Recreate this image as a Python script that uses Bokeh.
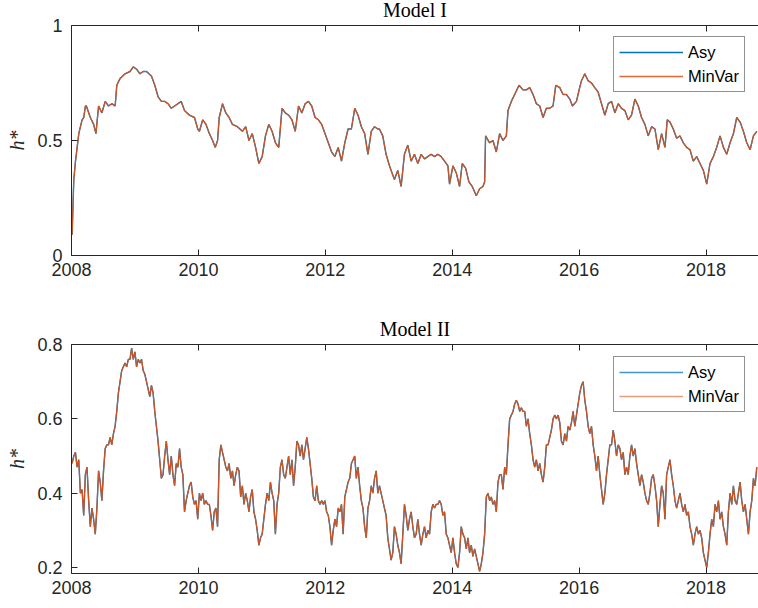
import numpy as np
from bokeh.plotting import figure
from bokeh.models import Range1d, LinearAxis, FixedTicker, Legend, LegendItem
from bokeh.layouts import column
from bokeh.embed import file_html
from bokeh.resources import INLINE

# ---------------- data ----------------
top_years = [
    2008.010, 2008.036, 2008.063, 2008.089, 2008.115, 2008.141, 2008.167, 2008.193, 2008.219, 2008.234,
    2008.297, 2008.349, 2008.385, 2008.427, 2008.479, 2008.531, 2008.583, 2008.635, 2008.688, 2008.714,
    2008.766, 2008.844, 2008.922, 2008.974, 2009.026, 2009.078, 2009.130, 2009.182, 2009.260, 2009.313,
    2009.365, 2009.417, 2009.469, 2009.521, 2009.573, 2009.625, 2009.677, 2009.729, 2009.781, 2009.859,
    2009.938, 2009.990, 2010.016, 2010.068, 2010.120, 2010.172, 2010.224, 2010.266, 2010.302, 2010.328,
    2010.380, 2010.432, 2010.484, 2010.536, 2010.615, 2010.693, 2010.745, 2010.797, 2010.849, 2010.901,
    2010.953, 2011.005, 2011.057, 2011.109, 2011.161, 2011.214, 2011.266, 2011.318, 2011.370, 2011.422,
    2011.474, 2011.526, 2011.578, 2011.630, 2011.682, 2011.734, 2011.786, 2011.839, 2011.891, 2011.943,
    2011.995, 2012.047, 2012.099, 2012.151, 2012.203, 2012.255, 2012.307, 2012.359, 2012.411, 2012.464,
    2012.516, 2012.568, 2012.620, 2012.672, 2012.724, 2012.776, 2012.828,
    2012.853, 2012.905, 2012.958, 2013.011, 2013.089, 2013.142, 2013.195, 2013.247, 2013.300, 2013.353,
    2013.405, 2013.458, 2013.511, 2013.563, 2013.616, 2013.668, 2013.721, 2013.774, 2013.826, 2013.879,
    2013.932, 2013.958, 2014.011, 2014.063, 2014.116, 2014.158, 2014.211, 2014.263, 2014.316, 2014.379,
    2014.432, 2014.484, 2014.511, 2014.526, 2014.589, 2014.642, 2014.695, 2014.747, 2014.800, 2014.853,
    2014.879, 2014.932, 2014.984, 2015.053, 2015.116, 2015.168, 2015.221, 2015.274, 2015.326, 2015.379,
    2015.432, 2015.484, 2015.537, 2015.589, 2015.632, 2015.695, 2015.747, 2015.800, 2015.853, 2015.895,
    2015.958, 2016.000, 2016.037, 2016.089, 2016.142, 2016.195, 2016.247, 2016.300, 2016.353, 2016.405,
    2016.458, 2016.511, 2016.563, 2016.616, 2016.668, 2016.721, 2016.774, 2016.826, 2016.879, 2016.932,
    2016.984, 2017.037, 2017.089, 2017.142, 2017.195, 2017.247, 2017.300, 2017.353, 2017.389, 2017.432,
    2017.484, 2017.537, 2017.589, 2017.642, 2017.695, 2017.747, 2017.800, 2017.853, 2017.905, 2017.958,
    2018.011, 2018.063, 2018.116, 2018.168, 2018.221, 2018.274, 2018.326, 2018.379, 2018.432, 2018.484,
    2018.537, 2018.589, 2018.642, 2018.695, 2018.747, 2018.800,
]
top_asy = [
    0.09, 0.33, 0.41, 0.47, 0.53, 0.56, 0.59, 0.60, 0.65, 0.65,
    0.60, 0.57, 0.53, 0.65, 0.62, 0.67, 0.65, 0.66, 0.65, 0.74,
    0.77, 0.79, 0.80, 0.82, 0.81, 0.79, 0.80, 0.80, 0.78, 0.74,
    0.69, 0.67, 0.67, 0.66, 0.64, 0.65, 0.66, 0.67, 0.63, 0.61,
    0.60, 0.55, 0.54, 0.59, 0.57, 0.53, 0.50, 0.47, 0.50, 0.60,
    0.66, 0.62, 0.60, 0.57, 0.56, 0.54, 0.56, 0.50, 0.53, 0.47,
    0.40, 0.43, 0.52, 0.57, 0.54, 0.49, 0.47, 0.64, 0.62, 0.61,
    0.59, 0.54, 0.65, 0.62, 0.66, 0.67, 0.65, 0.60, 0.59, 0.57,
    0.53, 0.49, 0.45, 0.43, 0.47, 0.41, 0.49, 0.55, 0.55, 0.64,
    0.61, 0.56, 0.53, 0.44, 0.54, 0.56, 0.55,
    0.55, 0.52, 0.44, 0.39, 0.33, 0.37, 0.30, 0.44, 0.48, 0.41,
    0.44, 0.40, 0.44, 0.42, 0.43, 0.44, 0.43, 0.44, 0.43, 0.41,
    0.39, 0.31, 0.39, 0.36, 0.30, 0.40, 0.38, 0.32, 0.30, 0.26,
    0.29, 0.30, 0.32, 0.52, 0.49, 0.50, 0.45, 0.53, 0.50, 0.52,
    0.63, 0.67, 0.70, 0.74, 0.72, 0.72, 0.73, 0.70, 0.66, 0.65,
    0.60, 0.64, 0.64, 0.65, 0.74, 0.73, 0.70, 0.70, 0.68, 0.65,
    0.67, 0.72, 0.76, 0.79, 0.76, 0.75, 0.73, 0.71, 0.66, 0.61,
    0.66, 0.67, 0.62, 0.66, 0.64, 0.63, 0.59, 0.61, 0.68, 0.65,
    0.60, 0.57, 0.52, 0.56, 0.55, 0.46, 0.53, 0.47, 0.59, 0.58,
    0.55, 0.51, 0.52, 0.49, 0.47, 0.46, 0.41, 0.43, 0.40, 0.37,
    0.31, 0.40, 0.43, 0.47, 0.52, 0.47, 0.44, 0.49, 0.53, 0.60,
    0.58, 0.54, 0.49, 0.46, 0.52, 0.54,
]
top_minvar = list(top_asy)

# sample dates of the Model II series (two stretches of equally spaced days)
bot_years = list(np.concatenate([np.linspace(2008.010, 2012.828, 186),
                                 np.linspace(2012.853, 2018.800, 227)]))
bot_asy = [
    0.48, 0.50, 0.51, 0.47, 0.49, 0.40, 0.41, 0.34, 0.45, 0.47,
    0.38, 0.31, 0.36, 0.33, 0.29, 0.36, 0.46, 0.43, 0.38, 0.46,
    0.52, 0.53, 0.53, 0.55, 0.53, 0.56, 0.58, 0.62, 0.67, 0.70,
    0.73, 0.74, 0.75, 0.74, 0.76, 0.76, 0.79, 0.76, 0.78, 0.74,
    0.76, 0.75, 0.76, 0.73, 0.72, 0.70, 0.68, 0.66, 0.69, 0.67,
    0.62, 0.58, 0.54, 0.49, 0.44, 0.45, 0.50, 0.54, 0.49, 0.45,
    0.50, 0.45, 0.42, 0.48, 0.47, 0.52, 0.47, 0.45, 0.35, 0.38,
    0.40, 0.42, 0.43, 0.39, 0.37, 0.38, 0.33, 0.40, 0.38, 0.40,
    0.37, 0.38, 0.37, 0.37, 0.34, 0.30, 0.35, 0.36, 0.31, 0.49,
    0.53, 0.51, 0.49, 0.47, 0.46, 0.48, 0.44, 0.46, 0.42, 0.45,
    0.47, 0.46, 0.39, 0.42, 0.37, 0.40, 0.38, 0.35, 0.39, 0.41,
    0.35, 0.33, 0.30, 0.26, 0.28, 0.29, 0.33, 0.37, 0.40, 0.38,
    0.43, 0.40, 0.38, 0.29, 0.37, 0.40, 0.47, 0.49, 0.45, 0.44,
    0.47, 0.50, 0.45, 0.49, 0.42, 0.47, 0.54, 0.53, 0.50, 0.53,
    0.49, 0.52, 0.55, 0.52, 0.48, 0.44, 0.39, 0.38, 0.42, 0.38,
    0.37, 0.38, 0.37, 0.38, 0.35, 0.34, 0.31, 0.26, 0.30, 0.33,
    0.31, 0.36, 0.35, 0.37, 0.29, 0.39, 0.41, 0.43, 0.44, 0.48,
    0.49, 0.50, 0.44, 0.47, 0.42, 0.38, 0.36, 0.31, 0.28, 0.36,
    0.38, 0.42, 0.40, 0.44, 0.46, 0.40,
    0.42, 0.40, 0.38, 0.36, 0.34, 0.28, 0.25, 0.22, 0.24, 0.31,
    0.29, 0.26, 0.24, 0.21, 0.29, 0.37, 0.34, 0.30, 0.33, 0.35,
    0.31, 0.28, 0.29, 0.33, 0.29, 0.26, 0.29, 0.31, 0.28, 0.30,
    0.29, 0.35, 0.37, 0.36, 0.37, 0.37, 0.38, 0.37, 0.34, 0.35,
    0.29, 0.28, 0.26, 0.24, 0.28, 0.24, 0.21, 0.20, 0.24, 0.31,
    0.29, 0.28, 0.25, 0.28, 0.24, 0.26, 0.23, 0.25, 0.23, 0.21,
    0.19, 0.21, 0.24, 0.29, 0.39, 0.40, 0.38, 0.39, 0.37, 0.38,
    0.35, 0.43, 0.45, 0.45, 0.41, 0.47, 0.45, 0.53, 0.60, 0.61,
    0.62, 0.64, 0.65, 0.64, 0.62, 0.63, 0.62, 0.62, 0.58, 0.60,
    0.56, 0.53, 0.49, 0.47, 0.49, 0.46, 0.48, 0.45, 0.43, 0.47,
    0.53, 0.53, 0.55, 0.57, 0.60, 0.61, 0.60, 0.61, 0.59, 0.54,
    0.53, 0.56, 0.54, 0.58, 0.57, 0.59, 0.62, 0.58, 0.61, 0.64,
    0.67, 0.69, 0.70, 0.65, 0.62, 0.58, 0.56, 0.58, 0.53, 0.50,
    0.46, 0.50, 0.45, 0.41, 0.37, 0.40, 0.45, 0.49, 0.53, 0.53,
    0.57, 0.54, 0.50, 0.53, 0.52, 0.49, 0.51, 0.45, 0.47, 0.45,
    0.50, 0.53, 0.50, 0.52, 0.48, 0.45, 0.42, 0.45, 0.43, 0.40,
    0.38, 0.37, 0.40, 0.44, 0.45, 0.42, 0.38, 0.31, 0.37, 0.42,
    0.40, 0.33, 0.45, 0.47, 0.49, 0.45, 0.42, 0.38, 0.36, 0.38,
    0.40, 0.37, 0.35, 0.37, 0.34, 0.35, 0.31, 0.29, 0.26, 0.29,
    0.31, 0.29, 0.30, 0.28, 0.24, 0.22, 0.20, 0.24, 0.29, 0.33,
    0.31, 0.37, 0.35, 0.38, 0.33, 0.35, 0.31, 0.29, 0.26, 0.35,
    0.40, 0.37, 0.42, 0.38, 0.37, 0.40, 0.43, 0.38, 0.35, 0.37,
    0.33, 0.29, 0.35, 0.38, 0.44, 0.42, 0.47,
]
bot_minvar = list(bot_asy)

year_ticks = [2008, 2010, 2012, 2014, 2016, 2018]
top_yticks = [0, 0.5, 1]
top_ylabels = {0: "0", 0.5: "0.5", 1: "1"}
bot_yticks = [0.2, 0.4, 0.6, 0.8]
series_names = ["Asy", "MinVar"]
titles = ["Model I", "Model II"]
ylabel = "h*"

# ---------------- styling ----------------
AX = "#262626"
SANS = "Liberation Sans"
SERIF = "Liberation Serif"
BLUE = "#0072BD"
ORANGE = "#D95319"


def make_panel(years, asy, minvar, y0, y1, yticks, ylabels, title, height,
               mtop, mbottom, legend_y, legend_colors, title_standoff):
    p = figure(width=758, height=height, x_range=Range1d(2008, 2018.827),
               y_range=Range1d(y0, y1), output_backend="svg",
               toolbar_location=None, min_border_left=71, min_border_right=0,
               min_border_top=mtop, min_border_bottom=mbottom)
    p.outline_line_color = None
    p.grid.visible = False
    p.background_fill_color = "white"

    p.title.text = title
    p.title.align = "center"
    p.title.offset = 5
    p.title.text_font = SERIF
    p.title.text_font_size = "20px"
    p.title.text_font_style = "normal"
    p.title.text_color = "#000000"
    p.title.standoff = title_standoff

    for ax in (p.xaxis[0], p.yaxis[0]):
        ax.axis_line_color = AX
        ax.major_tick_line_color = AX
        ax.major_tick_in = 6
        ax.major_tick_out = 0
        ax.minor_tick_line_color = None
        ax.major_label_text_font = SANS
        ax.major_label_text_font_size = "18px"
        ax.major_label_text_color = AX
    p.xaxis.ticker = FixedTicker(ticks=year_ticks)
    p.xaxis.major_label_standoff = 7
    p.yaxis.ticker = FixedTicker(ticks=yticks)
    if ylabels:
        p.yaxis.major_label_overrides = ylabels
    p.yaxis.major_label_standoff = 9
    p.yaxis.axis_label = ylabel
    p.yaxis.axis_label_text_font = SERIF
    p.yaxis.axis_label_text_font_style = "italic"
    p.yaxis.axis_label_text_font_size = "20px"
    p.yaxis.axis_label_text_color = AX
    p.yaxis.axis_label_standoff = 6

    top = LinearAxis(ticker=FixedTicker(ticks=year_ticks))
    top.axis_line_color = AX
    top.major_tick_line_color = AX
    top.major_tick_in = 6
    top.major_tick_out = 0
    top.minor_tick_line_color = None
    top.major_label_text_font_size = "0px"
    top.major_label_standoff = 0
    p.add_layout(top, "above")

    p.line(years, asy, line_color=BLUE, line_width=1.4)
    p.line(years, minvar, line_color=ORANGE, line_width=1.2, line_alpha=0.95)

    # legend samples (single point each, outside the visible range)
    l1 = p.line([2000], [y0], line_color=legend_colors[0], line_width=1.3)
    l2 = p.line([2000], [y0], line_color=legend_colors[1], line_width=1.3)
    leg = Legend(items=[LegendItem(label=series_names[0], renderers=[l1]),
                        LegendItem(label=series_names[1], renderers=[l2])],
                 location=(542, legend_y))
    leg.label_text_font = SANS
    leg.label_text_font_size = "16.5px"
    leg.label_text_color = "#000000"
    leg.glyph_width = 64
    leg.glyph_height = 20
    leg.label_height = 20
    leg.label_standoff = 5
    leg.spacing = 4
    leg.padding = 5
    leg.margin = 0
    leg.border_line_color = AX
    leg.border_line_width = 1
    leg.background_fill_color = "white"
    p.add_layout(leg, "center")
    return p


p1 = make_panel(top_years, top_asy, top_minvar, 0, 1, top_yticks, top_ylabels,
                titles[0], 312, 33, 49, 163, [BLUE, "#E06A35"], 9)
p2 = make_panel(bot_years, bot_asy, bot_minvar, 0.184, 0.8, bot_yticks, None,
                titles[1], 304, 40, 35, 161, ["#4095CE", "#EA9A78"], 10)

layout = column(p1, p2, spacing=0, styles={"margin-top": "-8px"})
open("out.html", "w").write(file_html(layout, INLINE))
